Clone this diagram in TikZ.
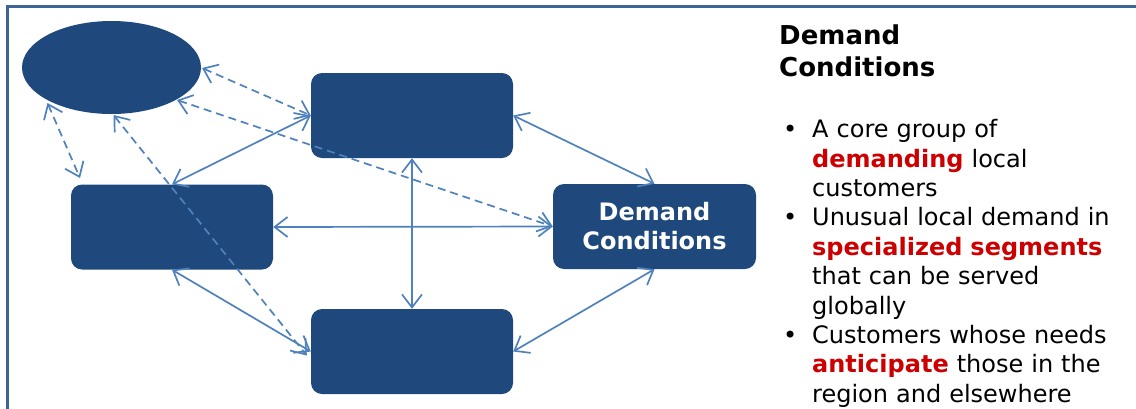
\documentclass[tikz,border=0pt]{standalone}
\usepackage{fontspec}
\setmainfont{DejaVu Sans}
\usetikzlibrary{arrows.meta,shapes.geometric}
\definecolor{boxblue}{RGB}{31,73,125}
\definecolor{linkblue}{RGB}{79,129,189}
\definecolor{framecol}{RGB}{61,100,149}
\definecolor{hired}{RGB}{204,0,0}
\newcommand\bulletlabel[1]{#1\hfil}
\tikzset{
  x=1pt, y=-1pt,
  boxnode/.style={draw=none, fill=boxblue, rounded corners=11pt,
    minimum width=202pt, minimum height=85pt, inner sep=0pt,
    text=white, font=\fontsize{24}{29}\selectfont\bfseries, align=center},
  ovalnode/.style={ellipse, draw=none, fill=boxblue,
    minimum width=179pt, minimum height=93pt, inner sep=0pt},
  link/.style={draw=linkblue, line width=1.7pt,
    {Straight Barb[length=13pt,width=20pt,line width=1.7pt]}-{Straight Barb[length=13pt,width=20pt,line width=1.7pt]}},
  dlink/.style={link, dash pattern=on 8pt off 5pt},
}
\begin{document}
\begin{tikzpicture}
\useasboundingbox (0,0) rectangle (1136,408);
% outer frame
\draw[framecol, line width=3pt] (7,420) -- (7,6) -- (1150,6);

% diagram nodes
\node[ovalnode] (oval) at (111.5,67.5) {};
\node[boxnode] (top) at (412,115.5) {};
\node[boxnode] (left) at (172,227) {};
\node[boxnode] (bot) at (412,351.5) {};
\node[boxnode, minimum width=203pt] (dem) at (654.5,226.5) {Demand\\Conditions};

\coordinate (ovalA) at (202,68);
\coordinate (ovalB) at (177,100);
\coordinate (ovalC) at (47.5,103);
\coordinate (ovalD) at (113.5,115);
\coordinate (leftTL) at (80,178);

% solid links
\draw[link] (top.west) -- (left.north);
\draw[link] (top.east) -- (dem.north);
\draw[link] (left.east) -- (dem.west);
\draw[link] (top.south) -- (bot.north);
\draw[link] (left.south) -- (bot.west);
\draw[link] (bot.east) -- (dem.south);

% dashed links
\draw[dlink] (ovalA) -- (top.west);
\draw[dlink] (ovalB) -- (dem.west);
\draw[dlink] (ovalC) -- (leftTL);
\draw[dlink] (ovalD) -- ([xshift=-4pt,yshift=-4pt]bot.west);

% side text
\node[anchor=north west, inner sep=0pt, align=left,
      font=\fontsize{26}{32}\selectfont\bfseries] (head) at (779,25)
  {Demand\\Conditions};
\node[anchor=north west, inner sep=0pt, text width=340pt, align=left,
      font=\fontsize{24}{29.4}\selectfont] (list) at (783,108)
  {\begin{list}{\textbullet}{\leftmargin=29pt\labelwidth=29pt\labelsep=0pt\itemsep=0pt\parsep=0pt\topsep=0pt
     \let\makelabel\bulletlabel}
   \item A core group of {\color{hired}\bfseries demanding} local customers
   \item Unusual local demand in {\color{hired}\bfseries specialized segments} that can be served globally
   \item Customers whose needs {\color{hired}\bfseries anticipate} those in the region and elsewhere
   \end{list}};
\end{tikzpicture}
\end{document}
